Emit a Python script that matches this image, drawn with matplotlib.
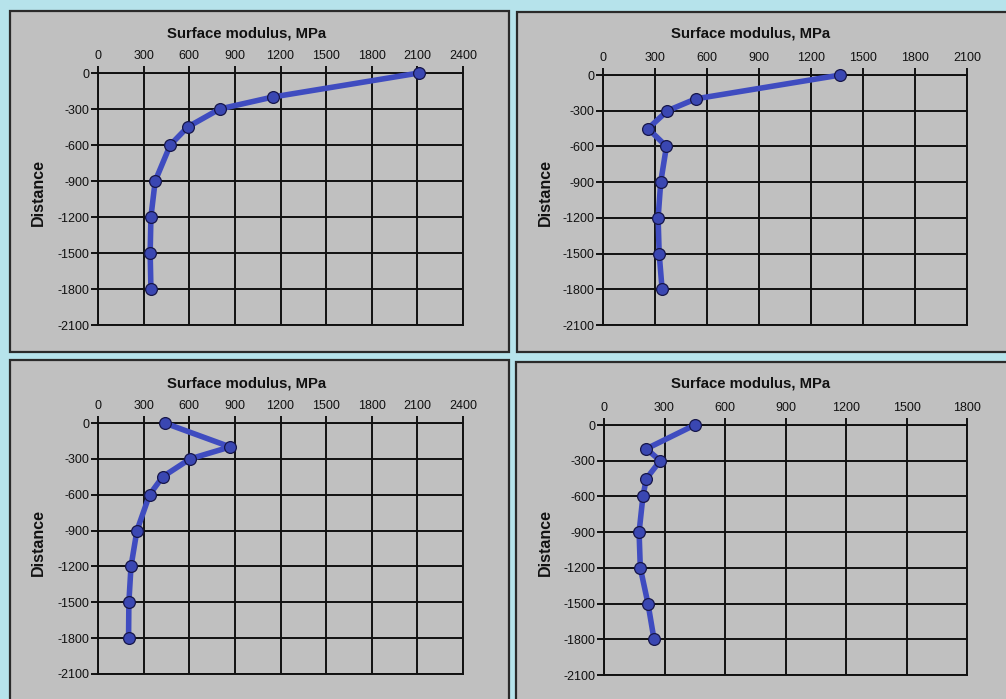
import matplotlib
matplotlib.use("Agg")
import matplotlib.pyplot as plt
from matplotlib.patches import Rectangle
import numpy as np

plt.rcParams["font.family"] = ["Liberation Sans", "DejaVu Sans"]
plt.rcParams["axes.unicode_minus"] = False

# Depth levels shared by all four profiles
distance = [0, -200, -300, -450, -600, -900, -1200, -1500, -1800]

# Surface modulus (MPa) profiles
modulus_a = [2110, 1150, 800, 590, 475, 376, 348, 343, 348]
modulus_b = [1370, 536, 372, 260, 366, 333, 318, 324, 341]
modulus_c = [438, 869, 606, 425, 339, 256, 217, 203, 201]
modulus_d = [450, 210, 279, 210, 193, 174, 180, 218, 248]

x_max = [2400, 2100, 2400, 1800]
y_ticks = list(range(0, -2101, -300))
title = "Surface modulus, MPa"
y_label = "Distance"

W, H = 1006, 699
fig = plt.figure(figsize=(W / 100, H / 100), dpi=100)
fig.patch.set_facecolor("#b6e3eb")

# chart frames (pixel boxes: left, top, right, bottom)
frames = [(10, 11, 509, 352), (517, 12, 1010, 352),
          (10, 360, 509, 704), (516, 362, 1010, 704)]
# plot areas (pixel boxes)
plot_areas = [(98, 73, 463, 325), (603, 75, 967, 325),
              (98, 423, 463, 674), (604, 425, 967, 675)]
title_pos = [(247, 33), (751, 34), (247, 383), (751, 384)]
ylabel_pos = [(38, 193), (545, 193), (38, 543), (545, 543)]

profiles = [modulus_a, modulus_b, modulus_c, modulus_d]

for fr in frames:
    l, t, r, b = fr
    fig.patches.append(Rectangle((l / W, 1 - b / H), (r - l) / W, (b - t) / H,
                                 transform=fig.transFigure, facecolor="#c0c0c0",
                                 edgecolor="#2a2a2a", linewidth=1.6, zorder=-1))

for i, (pa, vals) in enumerate(zip(plot_areas, profiles)):
    l, t, r, b = pa
    ax = fig.add_axes([l / W, 1 - b / H, (r - l) / W, (b - t) / H])
    ax.set_facecolor("#c0c0c0")
    ax.set_xlim(0, x_max[i])
    ax.set_ylim(-2100, 0)
    ax.xaxis.tick_top()
    ax.set_xticks(np.arange(0, x_max[i] + 1, 300))
    ax.set_yticks(y_ticks)
    ax.grid(True, color="#111111", linewidth=1.4)
    ax.set_axisbelow(True)
    for s in ax.spines.values():
        s.set_color("#111111")
        s.set_linewidth(1.4)
    ax.tick_params(axis="both", direction="out", length=5, width=1.4,
                   color="#111111", labelsize=9, labelcolor="#111111")
    ax.tick_params(axis="x", pad=3)
    ax.tick_params(axis="y", pad=1)
    ax.plot(vals, distance, color="#3f4cc0", linewidth=4.0, marker="o",
            markersize=8.5, markerfacecolor="#3a47b2",
            markeredgecolor="#16164a", markeredgewidth=0.9,
            clip_on=False, zorder=3)
    tx, ty = title_pos[i]
    fig.text(tx / W, 1 - ty / H, title, ha="center", va="center",
             fontsize=10.7, fontweight="bold", color="#111111")
    yx, yy = ylabel_pos[i]
    fig.text(yx / W, 1 - yy / H, y_label, ha="center", va="center",
             rotation=90, fontsize=11.5, fontweight="bold", color="#111111")

fig.savefig("out.png", dpi=100, facecolor=fig.get_facecolor())
